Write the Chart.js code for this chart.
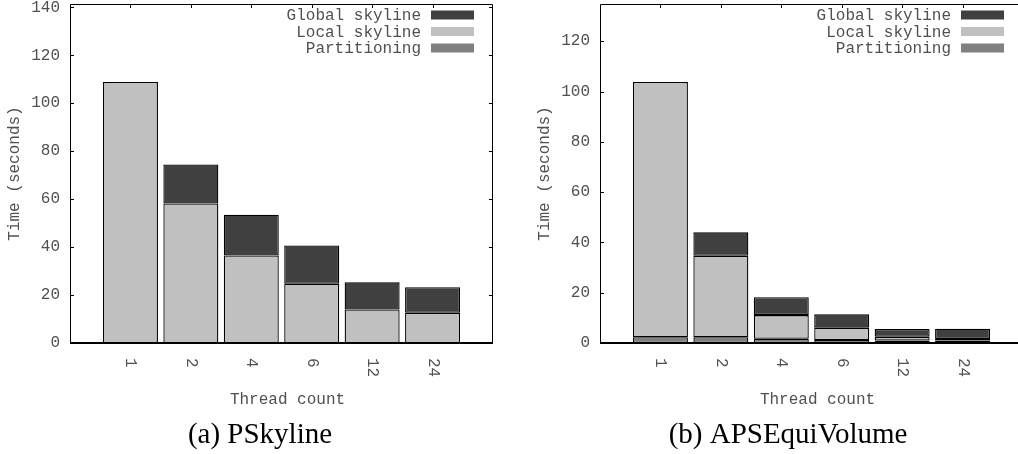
<!DOCTYPE html>
<html>
<head>
<meta charset="utf-8">
<script src="https://cdn.jsdelivr.net/npm/chart.js@4.4.1/dist/chart.umd.min.js"></script>
<style>
  html, body { margin: 0; padding: 0; background: #fff; }
  #page { position: relative; width: 1018px; height: 454px; overflow: hidden; }
  #left { position: absolute; left: 0; top: 0; }
  #right { position: absolute; left: 500px; top: 0; }
</style>
</head>
<body>
<div id="page">
  <canvas id="left" width="500" height="454"></canvas>
  <canvas id="right" width="523" height="454"></canvas>
</div>
<script>
// thread counts on the x axis
const threadCounts = ['1', '2', '4', '6', '12', '24'];
const seriesNames = ['Partitioning', 'Local skyline', 'Global skyline'];
const seriesColors = ['#808080', '#c0c0c0', '#404040'];

// (a) PSkyline, seconds per phase
const pskyPartitioning = [0, 0, 0, 0, 0, 0];
const pskyLocal = [108.9, 58.2, 36.5, 24.7, 14.0, 12.6];
const pskyGlobal = [0, 16.3, 17.0, 16.0, 11.3, 10.7];

// (b) APSEquiVolume, seconds per phase
const apsPartitioning = [2.3, 2.3, 1.7, 1.2, 1.0, 1.0];
const apsLocal = [101.5, 32.4, 9.4, 4.9, 1.5, 0.6];
const apsGlobal = [0, 9.3, 7.1, 5.3, 3.1, 4.1];

const yTickStep = 20;
const MONO = '"Liberation Mono", "DejaVu Sans Mono", monospace';
const TEXT_GRAY = '#505050';

// gnuplot style frame: box, inward ticks, rotated x labels, legend, titles
const gnuplotFrame = {
  id: 'gnuplotFrame',
  afterDraw(chart, args, opts) {
    const ctx = chart.ctx;
    const area = chart.chartArea;
    const xs = chart.scales.x;
    const ys = chart.scales.y;
    ctx.save();

    // box
    ctx.strokeStyle = '#000';
    ctx.lineWidth = 1;
    ctx.beginPath();
    ctx.moveTo(area.left + 0.5, area.bottom);
    ctx.lineTo(area.left + 0.5, area.top + 0.5);
    ctx.lineTo(area.right - 0.5, area.top + 0.5);
    ctx.lineTo(area.right - 0.5, area.bottom);
    ctx.stroke();
    ctx.lineWidth = 2;
    ctx.beginPath();
    ctx.moveTo(area.left, area.bottom);
    ctx.lineTo(area.right, area.bottom);
    ctx.stroke();

    // y ticks, both sides
    ctx.lineWidth = 1;
    ys.ticks.forEach(t => {
      const y = Math.round(ys.getPixelForValue(t.value)) + 0.5;
      ctx.beginPath();
      ctx.moveTo(area.left, y); ctx.lineTo(area.left + 4, y);
      ctx.moveTo(area.right, y); ctx.lineTo(area.right - 4, y);
      ctx.stroke();
    });

    // x ticks on the top edge, and rotated labels below the axis
    ctx.font = '16px ' + MONO;
    ctx.fillStyle = TEXT_GRAY;
    threadCounts.forEach((label, i) => {
      const x = Math.round(xs.getPixelForValue(i + 1)) + 0.5;
      ctx.beginPath();
      ctx.moveTo(x, area.top); ctx.lineTo(x, area.top + 4);
      ctx.stroke();
      ctx.save();
      ctx.translate(x, area.bottom + 15);
      ctx.rotate(Math.PI / 2);
      ctx.textAlign = 'left';
      ctx.textBaseline = 'middle';
      ctx.fillText(label, 0, 0);
      ctx.restore();
    });

    // legend, top right, reversed stack order
    const keyRight = area.right - 19;
    [2, 1, 0].forEach((s, row) => {
      const cy = area.top + 11 + row * 16.5;
      ctx.fillStyle = seriesColors[s];
      ctx.fillRect(keyRight - 43, cy - 4.5, 43, 9);
      ctx.fillStyle = TEXT_GRAY;
      ctx.textAlign = 'right';
      ctx.textBaseline = 'middle';
      ctx.fillText(seriesNames[s], keyRight - 53, cy + 1);
    });

    // axis titles
    ctx.fillStyle = TEXT_GRAY;
    ctx.textAlign = 'center';
    ctx.textBaseline = 'alphabetic';
    ctx.fillText('Thread count', (area.left + area.right) / 2 + 6, 404);
    ctx.save();
    ctx.translate(area.left - 55, (area.top + area.bottom) / 2);
    ctx.rotate(-Math.PI / 2);
    ctx.textBaseline = 'middle';
    ctx.fillText('Time (seconds)', 0, 0);
    ctx.restore();

    // sub caption
    ctx.fillStyle = '#000';
    ctx.font = '29px "Liberation Serif", "DejaVu Serif", serif';
    ctx.fillText(opts.caption, opts.captionX, 443);

    ctx.restore();
  }
};

function makeChart(canvasId, parts, yMax, axisWidth, caption, captionX) {
  const labels = ['', ...threadCounts, ''];
  const pad = arr => [null, ...arr, null];
  return new Chart(document.getElementById(canvasId), {
    type: 'bar',
    data: {
      labels: labels,
      datasets: parts.map((values, s) => ({
        label: seriesNames[s],
        data: pad(values),
        backgroundColor: seriesColors[s],
        borderColor: '#000',
        borderWidth: 1.3,
        borderSkipped: false,
        categoryPercentage: 1,
        barPercentage: 0.91
      }))
    },
    options: {
      responsive: false,
      animation: false,
      layout: { padding: { top: 4, right: canvasId === 'left' ? 7 : 0, left: 0, bottom: 0 } },
      plugins: {
        legend: { display: false },
        tooltip: { enabled: false },
        gnuplotFrame: { caption: caption, captionX: captionX }
      },
      scales: {
        x: {
          stacked: true,
          offset: false,
          grid: { display: false, drawTicks: false },
          border: { display: false },
          ticks: { display: false },
          afterFit: s => { s.height = 111; s.paddingLeft = 0; s.paddingRight = 0; }
        },
        y: {
          stacked: true,
          min: 0,
          max: yMax,
          grid: { display: false, drawTicks: false },
          border: { display: false },
          ticks: {
            stepSize: yTickStep,
            includeBounds: false,
            padding: 10,
            color: TEXT_GRAY,
            font: { family: MONO, size: 16 }
          },
          afterFit: s => { s.width = axisWidth; s.paddingTop = 0; s.paddingBottom = 0; }
        }
      }
    },
    plugins: [gnuplotFrame]
  });
}

makeChart('left', [pskyPartitioning, pskyLocal, pskyGlobal], 141.4, 70, '(a) PSkyline', 260);
makeChart('right', [apsPartitioning, apsLocal, apsGlobal], 134.8, 100, '(b) APSEquiVolume', 288);
</script>
</body>
</html>
